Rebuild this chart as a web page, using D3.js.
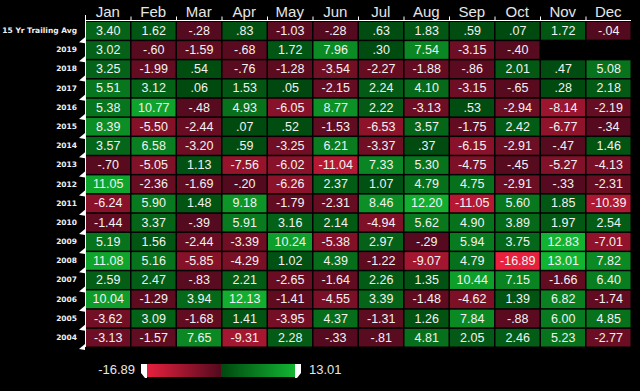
<!DOCTYPE html>
<html><head><meta charset="utf-8">
<script src="https://cdn.jsdelivr.net/npm/d3@7"></script>
<style>
html,body{margin:0;padding:0;background:#000;}
svg{display:block;}
</style></head>
<body>
<svg id="chart" width="640" height="391"></svg>
<script>
const months = ["Jan","Feb","Mar","Apr","May","Jun","Jul","Aug","Sep","Oct","Nov","Dec"];
const rowLabels = ["15 Yr Trailing Avg","2019","2018","2017","2016","2015","2014","2013","2012","2011","2010","2009","2008","2007","2006","2005","2004"];
const avgRow = [3.40,1.62,-0.28,0.83,-1.03,-0.28,0.63,1.83,0.59,0.07,1.72,-0.04];
const y2019 = [3.02,-0.60,-1.59,-0.68,1.72,7.96,0.30,7.54,-3.15,-0.40,null,null];
const y2018 = [3.25,-1.99,0.54,-0.76,-1.28,-3.54,-2.27,-1.88,-0.86,2.01,0.47,5.08];
const y2017 = [5.51,3.12,0.06,1.53,0.05,-2.15,2.24,4.10,-3.15,-0.65,0.28,2.18];
const y2016 = [5.38,10.77,-0.48,4.93,-6.05,8.77,2.22,-3.13,0.53,-2.94,-8.14,-2.19];
const y2015 = [8.39,-5.50,-2.44,0.07,0.52,-1.53,-6.53,3.57,-1.75,2.42,-6.77,-0.34];
const y2014 = [3.57,6.58,-3.20,0.59,-3.25,6.21,-3.37,0.37,-6.15,-2.91,-0.47,1.46];
const y2013 = [-0.70,-5.05,1.13,-7.56,-6.02,-11.04,7.33,5.30,-4.75,-0.45,-5.27,-4.13];
const y2012 = [11.05,-2.36,-1.69,-0.20,-6.26,2.37,1.07,4.79,4.75,-2.91,-0.33,-2.31];
const y2011 = [-6.24,5.90,1.48,9.18,-1.79,-2.31,8.46,12.20,-11.05,5.60,1.85,-10.39];
const y2010 = [-1.44,3.37,-0.39,5.91,3.16,2.14,-4.94,5.62,4.90,3.89,1.97,2.54];
const y2009 = [5.19,1.56,-2.44,-3.39,10.24,-5.38,2.97,-0.29,5.94,3.75,12.83,-7.01];
const y2008 = [11.08,5.16,-5.85,-4.29,1.02,4.39,-1.22,-9.07,4.79,-16.89,13.01,7.82];
const y2007 = [2.59,2.47,-0.83,2.21,-2.65,-1.64,2.26,1.35,10.44,7.15,-1.66,6.40];
const y2006 = [10.04,-1.29,3.94,12.13,-1.41,-4.55,3.39,-1.48,-4.62,1.39,6.82,-1.74];
const y2005 = [-3.62,3.09,-1.68,1.41,-3.95,4.37,-1.31,1.26,7.84,-0.88,6.00,4.85];
const y2004 = [-3.13,-1.57,7.65,-9.31,2.28,-0.33,-0.81,4.81,2.05,2.46,5.23,-2.77];
const legendMin = -16.89, legendMax = 13.01;

const rows = [avgRow,y2019,y2018,y2017,y2016,y2015,y2014,y2013,y2012,y2011,y2010,y2009,y2008,y2007,y2006,y2005,y2004];
const cells = [];
rows.forEach((r,i)=>r.forEach((v,j)=>{ if(v!==null) cells.push({row:rowLabels[i],month:months[j],v}); }));

const svg = d3.select("#chart");
const x = d3.scaleBand().domain(months).range([85,631]);
const y = d3.scaleBand().domain(rowLabels).range([21,347]);

const negColor = d3.scaleLinear().domain([0,legendMin]).range(["#520a1e","#e8203e"]).clamp(true);
const posColor = d3.scaleLinear().domain([0,legendMax]).range(["#00480f","#12b532"]).clamp(true);
const color = v => v<0 ? negColor(v) : posColor(v);
const fmt = v => { let s = d3.format(".2f")(Math.abs(v)); if(s.startsWith("0.")) s = s.slice(1); return (v<0?"-":"")+s; };

// cells
svg.append("g").selectAll("rect").data(cells).join("rect")
  .attr("x",d=>x(d.month)+1).attr("y",d=>y(d.row)+1)
  .attr("width",x.bandwidth()-1.5).attr("height",y.bandwidth()-1.5)
  .attr("fill",d=>color(d.v));
svg.append("g").selectAll("text").data(cells).join("text")
  .attr("x",d=>x(d.month)+x.bandwidth()/2+0.5).attr("y",d=>y(d.row)+y.bandwidth()/2+1)
  .attr("text-anchor","middle").attr("dominant-baseline","middle")
  .attr("font-family","Liberation Sans, Arial, sans-serif").attr("font-size",12.5)
  .attr("fill","#f2f2f2").text(d=>fmt(d.v));

// top axis (months)
const topAx = svg.append("g").attr("transform","translate(0,20.5)");
topAx.append("line").attr("x1",85).attr("x2",631).attr("stroke","#fff").attr("stroke-width",1);
topAx.selectAll("line.t").data(months.slice(1)).join("line").attr("class","t")
  .attr("x1",d=>x(d)+0.5).attr("x2",d=>x(d)+0.5).attr("y1",0).attr("y2",-4).attr("stroke","#fff");
topAx.selectAll("text").data(months).join("text")
  .attr("x",d=>x(d)+x.bandwidth()/2).attr("y",-4)
  .attr("text-anchor","middle").attr("font-family","Liberation Sans, Arial, sans-serif")
  .attr("font-size",15).attr("fill","#e6e6e6").text(d=>d);

// left axis
const leftAx = svg.append("g");
leftAx.append("line").attr("x1",85.5).attr("x2",85.5).attr("y1",15).attr("y2",347).attr("stroke","#fff");
leftAx.selectAll("path").data(rowLabels).join("path")
  .attr("d",d=>{const yy=y(d)+y.bandwidth(); return `M85,${yy-3}L85,${yy+3}L79,${yy+2}Z`;})
  .attr("fill","#fff");
leftAx.selectAll("text").data(rowLabels).join("text")
  .attr("x",77).attr("y",d=>y(d)+y.bandwidth()/2+0.5)
  .attr("text-anchor","end").attr("dominant-baseline","middle")
  .attr("font-family","DejaVu Sans, Verdana, sans-serif").attr("font-weight","bold")
  .attr("font-size",7.5).attr("fill","#f0f0f0").text(d=>d);

// legend
const lx = d3.scaleLinear().domain([0,1]).range([147,295]);
const defs = svg.append("defs");
const g1 = defs.append("linearGradient").attr("id","gneg");
g1.append("stop").attr("offset","0%").attr("stop-color",negColor(legendMin));
g1.append("stop").attr("offset","100%").attr("stop-color",negColor(0));
const g2 = defs.append("linearGradient").attr("id","gpos");
g2.append("stop").attr("offset","0%").attr("stop-color",posColor(0));
g2.append("stop").attr("offset","100%").attr("stop-color",posColor(legendMax));
svg.append("rect").attr("x",lx(0)).attr("y",364).attr("width",lx(0.5)-lx(0)).attr("height",13).attr("fill","url(#gneg)");
svg.append("rect").attr("x",lx(0.5)).attr("y",364).attr("width",lx(1)-lx(0.5)).attr("height",13).attr("fill","url(#gpos)");
svg.append("path").attr("d",`M${lx(0)-6},364L${lx(0)},364L${lx(0)},378L${lx(0)-2},378L${lx(0)-6},373Z`).attr("fill","#fff");
svg.append("path").attr("d",`M${lx(1)},364L${lx(1)+6},364L${lx(1)+6},373L${lx(1)+2},378L${lx(1)},378Z`).attr("fill","#fff");
svg.append("text").attr("x",lx(0)-12).attr("y",371).attr("text-anchor","end").attr("dominant-baseline","middle")
  .attr("font-family","Liberation Sans, Arial, sans-serif").attr("font-size",13).attr("fill","#e6e6e6").text(fmt(legendMin));
svg.append("text").attr("x",lx(1)+14).attr("y",371).attr("text-anchor","start").attr("dominant-baseline","middle")
  .attr("font-family","Liberation Sans, Arial, sans-serif").attr("font-size",13).attr("fill","#e6e6e6").text(fmt(legendMax));
</script>
</body></html>
